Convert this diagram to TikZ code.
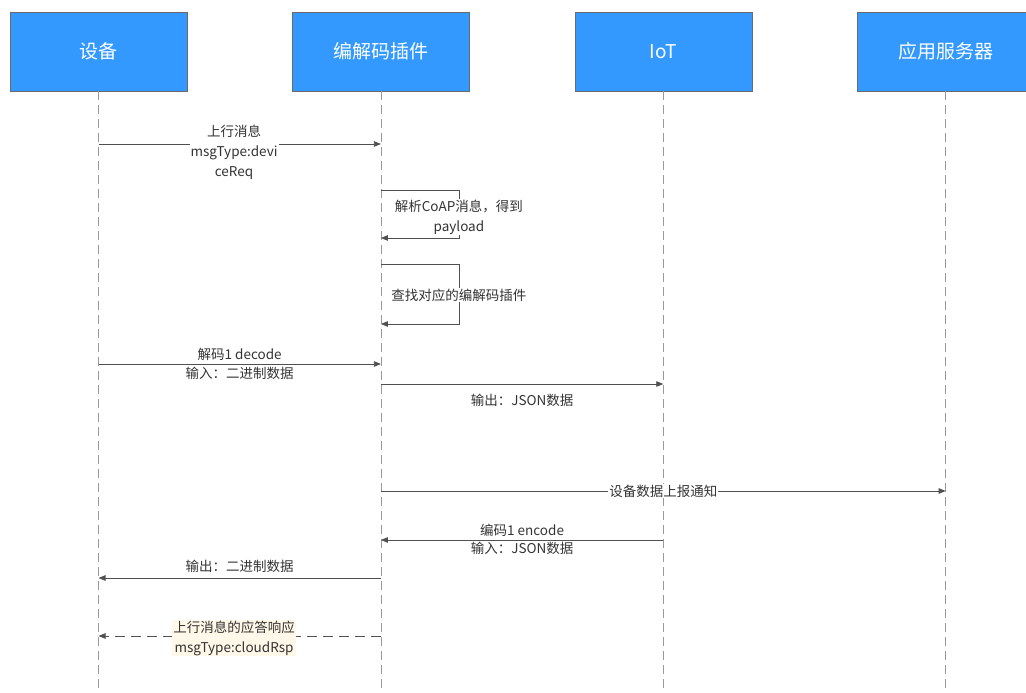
\documentclass[tikz,border=0pt]{standalone}
\usepackage{fontspec}
\setmainfont{Noto Sans CJK SC}
\usepackage{tikz}
\usetikzlibrary{
  arrows.meta,
  positioning,
  calc
}
\definecolor{sqHead}{HTML}{3399FF}
\definecolor{sqEdge}{HTML}{6B6B6B}
\definecolor{sqLine}{HTML}{505050}
\definecolor{sqLife}{HTML}{9A9A9A}
\definecolor{sqText}{HTML}{333333}
\definecolor{sqNote}{HTML}{FFF8E8}
\tikzset{
  seqhead/.style={
    draw=sqEdge, fill=sqHead, text=white, inner sep=0pt,
    minimum width=177pt, minimum height=79pt,
    font=\fontsize{19}{22}\selectfont
  },
  lifeline/.style={sqLife, line width=0.8pt, dash pattern=on 9pt off 5pt},
  msg/.style={-{Triangle[length=7pt, width=5.5pt]}, sqLine, line width=0.8pt},
  reply/.style={msg, dash pattern=on 10pt off 6pt},
  msgtext/.style={font=\fontsize{13.5}{20}\selectfont, text=sqText, align=center, inner sep=1pt},
  loopnote/.style={msgtext, fill=white}
}

\begin{document}
\begin{tikzpicture}[x=1pt, y=-1pt, node distance=105pt]
  \useasboundingbox (0,0) rectangle (1026,693);
  \node[seqhead] (dev) at (98.5,51.5) {设备};
  \node[seqhead, right=of dev] (codec) {编解码插件};
  \node[seqhead, right=of codec] (iot) {IoT};
  \node[seqhead, right=of iot] (app) {应用服务器};
  \foreach \l in {dev,codec,iot,app} {
    \coordinate (\l-end) at (\l.south |- 0,702);
    \draw[lifeline] (\l.south) -- (\l-end);
    \foreach \r/\y in {a/144, b/190, c/238, d/264, e/324, f/364, g/384, h/491, i/540, j/578, k/636}
      \coordinate (\l-\r) at (\l.south |- 0,\y);
  }
  \draw[msg] (dev-a) -- node[loopnote, pos=0.48, yshift=-8pt] {上行消息\\msgType:devi\\ceReq} (codec-a);
  \draw[msg] (codec-b) -- ++(78,0) |- node[loopnote, pos=0.25, yshift=-3pt] {解析CoAP消息，得到\\payload} (codec-c);
  \draw[msg] (codec-d) -- ++(78,0) |- node[loopnote, pos=0.25, yshift=-1pt] {查找对应的编解码插件} (codec-e);
  \draw[msg] (dev-f) -- node[msgtext, above=2pt] {解码1 decode} node[msgtext, below=2pt] {输入：二进制数据} (codec-f);
  \draw[msg] (codec-g) -- node[msgtext, below=9pt] {输出：JSON数据} (iot-g);
  \draw[msg] (codec-h) -- node[loopnote] {设备数据上报通知} (app-h);
  \draw[msg] (iot-i) -- node[msgtext, above=2pt] {编码1 encode} node[msgtext, below=1pt] {输入：JSON数据} (codec-i);
  \draw[msg] (codec-j) -- node[msgtext, above=4pt] {输出：二进制数据} (dev-j);
  \draw[reply] (codec-k) -- node[msgtext, fill=sqNote, pos=0.52, yshift=-2pt] {上行消息的应答响应\\msgType:cloudRsp} (dev-k);
\end{tikzpicture}
\end{document}
